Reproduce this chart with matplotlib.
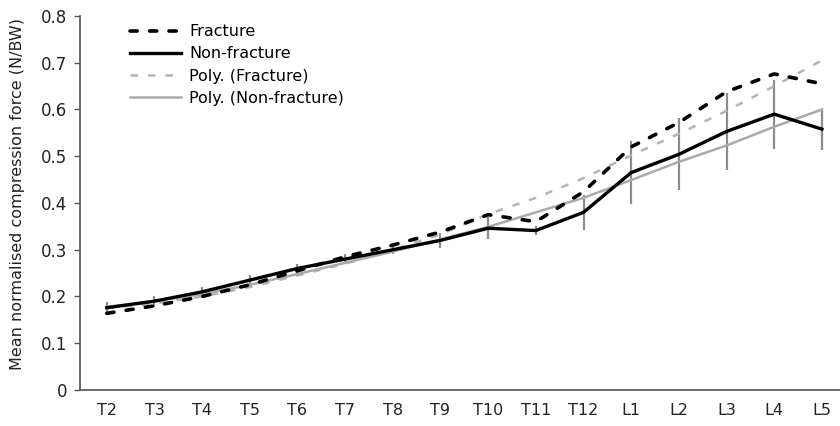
import matplotlib
matplotlib.use("Agg")
import matplotlib.pyplot as plt
import numpy as np

levels = ["T2", "T3", "T4", "T5", "T6", "T7", "T8", "T9", "T10", "T11", "T12",
          "L1", "L2", "L3", "L4", "L5"]
fracture = [0.164, 0.180, 0.200, 0.225, 0.255, 0.285, 0.310, 0.338, 0.375, 0.360, 0.424,
            0.520, 0.572, 0.638, 0.676, 0.655]
non_fracture = [0.176, 0.190, 0.210, 0.235, 0.260, 0.280, 0.300, 0.320, 0.346, 0.341, 0.380,
                0.465, 0.504, 0.553, 0.590, 0.558]
non_fracture_err = [0.012, 0.012, 0.010, 0.010, 0.010, 0.010, 0.010, 0.016, 0.023, 0.010, 0.038,
                    0.067, 0.077, 0.082, 0.074, 0.045]
poly_fracture = [0.175, 0.185, 0.200, 0.220, 0.245, 0.270, 0.300, 0.333, 0.376, 0.411, 0.453,
                 0.502, 0.548, 0.597, 0.650, 0.705]
poly_non_fracture = [0.178, 0.190, 0.205, 0.225, 0.248, 0.272, 0.296, 0.322, 0.349, 0.380, 0.411,
                     0.449, 0.488, 0.523, 0.563, 0.600]
y_ticks = [0, 0.1, 0.2, 0.3, 0.4, 0.5, 0.6, 0.7, 0.8]

plt.rcParams['font.family'] = ['DejaVu Sans']

fig = plt.figure(figsize=(8.4, 4.26), dpi=100)
ax = fig.add_axes([0.095, 0.0845, 0.905, 0.878])

x = np.arange(len(levels))

ax.errorbar(x, non_fracture, yerr=non_fracture_err, fmt='none', ecolor='#8c8c8c',
            elinewidth=1.6, capsize=0, zorder=1)
ax.plot(x, fracture, color='black', lw=2.6, dashes=(2.0, 3.4), dash_capstyle='round',
        label='Fracture', zorder=4)
ax.plot(x, non_fracture, color='black', lw=2.4, label='Non-fracture', zorder=4)
ax.plot(x, poly_fracture, color='#b4b4b4', lw=1.8, dashes=(3, 4), label='Poly. (Fracture)', zorder=3)
ax.plot(x, poly_non_fracture, color='#aaaaaa', lw=1.8, label='Poly. (Non-fracture)', zorder=3)

ax.set_xlim(-0.566, 15.38)
ax.set_ylim(0, 0.8)
ax.set_xticks(x)
ax.set_xticklabels(levels, fontsize=11.5)
ax.set_yticks(y_ticks)
ax.set_yticklabels(["0"] + [f"{v:.1f}" for v in y_ticks[1:]], fontsize=12)
ax.tick_params(axis='x', length=0, pad=9, colors='#222222')
ax.tick_params(axis='y', length=4, width=1, direction='out', pad=5,
               colors='#555555', labelcolor='#222222')

for s in ['top', 'right']:
    ax.spines[s].set_visible(False)
for s in ['left', 'bottom']:
    ax.spines[s].set_color('#555555')
    ax.spines[s].set_linewidth(1.2)

ax.set_ylabel("Mean normalised compression force (N/BW)", fontsize=11.5, color='#222222')
ax.yaxis.set_label_coords(-0.072, 0.525)

leg = ax.legend(loc='upper left', bbox_to_anchor=(0.057, 0.995), frameon=False, fontsize=11.5,
                handlelength=3.2, handletextpad=0.55, labelspacing=0.45, borderaxespad=0)

fig.savefig("out.png", dpi=100)
